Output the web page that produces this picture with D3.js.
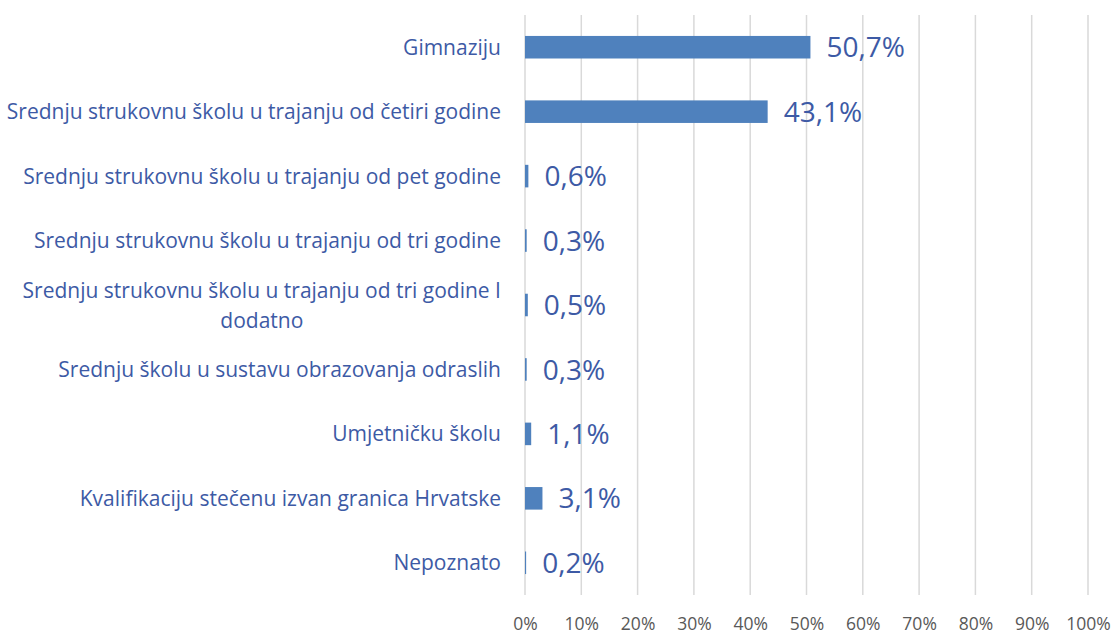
<!DOCTYPE html>
<html>
<head>
<meta charset="utf-8">
<script src="https://cdn.jsdelivr.net/npm/d3@7"></script>
<style>
	body { margin: 0; background: #fff; }
	svg { display: block; font-family: "Open Sans", sans-serif; }
</style>
</head>
<body>
<svg width="1117" height="634"></svg>
<script>
// Horizontal bar chart: type of secondary school completed

var categories = [
	"Gimnaziju",
	"Srednju strukovnu školu u trajanju od četiri godine",
	"Srednju strukovnu školu u trajanju od pet godine",
	"Srednju strukovnu školu u trajanju od tri godine",
	"Srednju strukovnu školu u trajanju od tri godine I dodatno",
	"Srednju školu u sustavu obrazovanja odraslih",
	"Umjetničku školu",
	"Kvalifikaciju stečenu izvan granica Hrvatske",
	"Nepoznato"
];
var values = [50.7, 43.1, 0.6, 0.3, 0.5, 0.3, 1.1, 3.1, 0.2];
var ticks = [0, 10, 20, 30, 40, 50, 60, 70, 80, 90, 100];

function draw(){
	var svg = d3.select("svg");
	var margin = {left: 525, right: 29, top: 15, bottom: 39};
	var width = parseInt(svg.attr("width"));
	var height = parseInt(svg.attr("height"));

	var x = d3.scaleLinear().domain([0, 100]).range([margin.left, width - margin.right]);
	var y = d3.scaleBand().domain(categories).range([margin.top, height - margin.bottom]).paddingInner(0.65).paddingOuter(0.325);

	// gridlines
	svg.append("g")
		.selectAll("line")
		.data(ticks)
		.enter().append("line")
		.attr("x1", d => x(d)).attr("x2", d => x(d))
		.attr("y1", margin.top).attr("y2", height - margin.bottom)
		.attr("stroke", "#d9d9d9")
		.attr("stroke-width", 1.5);

	// x axis labels
	var xAxis = svg.append("g")
		.attr("transform", "translate(0," + (height - margin.bottom) + ")")
		.call(d3.axisBottom(x).tickValues(ticks).tickSize(0).tickPadding(23).tickFormat(d => d + "%"));
	xAxis.select(".domain").remove();
	xAxis.selectAll("text")
		.attr("fill", "#595959")
		.style("font-size", "17.5px")
		.style("font-family", "'Open Sans', sans-serif");

	// bars
	svg.append("g")
		.selectAll("rect")
		.data(values)
		.enter().append("rect")
		.attr("x", x(0))
		.attr("y", (d, i) => y(categories[i]))
		.attr("width", d => x(d) - x(0))
		.attr("height", y.bandwidth())
		.attr("fill", "#4f81bd");

	// value labels
	svg.append("g")
		.selectAll("text")
		.data(values)
		.enter().append("text")
		.attr("x", d => x(d) + 16)
		.attr("y", (d, i) => y(categories[i]) + y.bandwidth() / 2)
		.attr("dy", "0.36em")
		.attr("fill", "#3d5aa5")
		.style("font-size", "28px")
		.text(d => d.toFixed(1).replace(".", ",") + "%");

	// category labels, wrapped like the original
	var labels = svg.append("g")
		.selectAll("text")
		.data(categories)
		.enter().append("text")
		.attr("text-anchor", "middle")
		.attr("fill", "#3d5aa5")
		.style("font-size", "21px");

	labels.each(function(c){
		var el = d3.select(this);
		var words = c.split(" ");
		var lines = [];
		var line = [];
		var tmp = el.append("tspan");
		words.forEach(w => {
			tmp.text(line.concat([w]).join(" "));
			if (line.length && tmp.node().getComputedTextLength() > 500) {
				lines.push(line.join(" "));
				line = [w];
			} else {
				line.push(w);
			}
		});
		lines.push(line.join(" "));
		tmp.remove();
		var widest = 0;
		var cy = y(c) + y.bandwidth() / 2;
		var lh = 30;
		lines.forEach((l, i) => {
			var t = el.append("tspan")
				.attr("y", cy + (i - (lines.length - 1) / 2) * lh)
				.attr("dy", "0.36em")
				.text(l);
			widest = Math.max(widest, t.node().getComputedTextLength());
		});
		// right edge of the widest line sits just left of the axis
		el.selectAll("tspan").attr("x", 501 - widest / 2);
	});
}

draw();
</script>
</body>
</html>
